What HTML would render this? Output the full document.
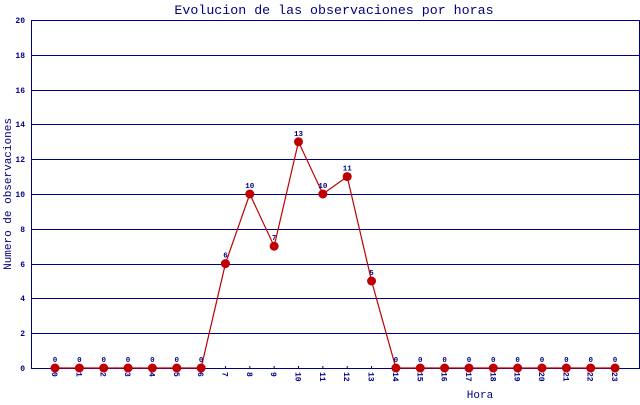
<!DOCTYPE html>
<html><head><style>body{margin:0;background:#fff;width:640px;height:400px;overflow:hidden}</style></head><body>
<svg width="640" height="400" xmlns="http://www.w3.org/2000/svg" font-family="Liberation Mono, monospace">
<rect width="640" height="400" fill="#fff"/>
<text x="334" y="14" text-anchor="middle" font-size="13.3" fill="#000080" font-weight="normal">Evolucion de las observaciones por horas</text>
<g stroke="#000080" stroke-width="1">
<line x1="31" y1="20.5" x2="640" y2="20.5"/>
<line x1="31" y1="55.5" x2="640" y2="55.5"/>
<line x1="31" y1="90.5" x2="640" y2="90.5"/>
<line x1="31" y1="124.5" x2="640" y2="124.5"/>
<line x1="31" y1="159.5" x2="640" y2="159.5"/>
<line x1="31" y1="194.5" x2="640" y2="194.5"/>
<line x1="31" y1="229.5" x2="640" y2="229.5"/>
<line x1="31" y1="264.5" x2="640" y2="264.5"/>
<line x1="31" y1="298.5" x2="640" y2="298.5"/>
<line x1="31" y1="333.5" x2="640" y2="333.5"/>
<line x1="31" y1="368.5" x2="640" y2="368.5"/>
<line x1="31.5" y1="20" x2="31.5" y2="369"/>
<line x1="639.5" y1="20" x2="639.5" y2="369"/>
</g>
<g font-size="8" font-weight="bold" fill="#000080" text-anchor="end">
<text x="25" y="23">20</text><text x="25" y="58">18</text><text x="25" y="93">16</text><text x="25" y="127">14</text><text x="25" y="162">12</text><text x="25" y="197">10</text><text x="25" y="232">8</text><text x="25" y="267">6</text><text x="25" y="301">4</text><text x="25" y="336">2</text><text x="25" y="371">0</text>
</g>
<text transform="translate(11,194) rotate(-90)" text-anchor="middle" font-size="11" fill="#000080">Numero de observaciones</text>
<text x="480" y="398" text-anchor="middle" font-size="11" fill="#000080">Hora</text>
<g id="xl" font-size="8" font-weight="bold" fill="#000080"></g>
<polyline fill="none" stroke="#c00000" stroke-width="1.2" points=""/>
<g id="pts"></g>
</svg>
<script>
var v=[0,0,0,0,0,0,0,6,10,7,13,10,11,5,0,0,0,0,0,0,0,0,0,0];
var ns="http://www.w3.org/2000/svg",svg=document.querySelector('svg');
var xl=document.getElementById('xl'),pts=document.getElementById('pts'),pl=document.querySelector('polyline');
var s="";
for(var i=0;i<24;i++){
 var x=55+i*24.35,y=368-v[i]*17.4;
 s+=x+","+y+" ";
 var t=document.createElementNS(ns,'text');t.setAttribute('transform','translate('+(x-3)+',372) rotate(90)');t.textContent=i;xl.appendChild(t);
 var tk=document.createElementNS(ns,'line');tk.setAttribute('x1',x);tk.setAttribute('x2',x);tk.setAttribute('y1',366);tk.setAttribute('y2',369);tk.setAttribute('stroke','#000080');svg.insertBefore(tk,pl);
 var c=document.createElementNS(ns,'circle');c.setAttribute('cx',x);c.setAttribute('cy',y);c.setAttribute('r',4.5);c.setAttribute('fill','#c00000');pts.appendChild(c);
 var l=document.createElementNS(ns,'text');l.setAttribute('x',x);l.setAttribute('y',y-6);l.setAttribute('text-anchor','middle');l.setAttribute('font-size','7.5');l.setAttribute('font-weight','bold');l.setAttribute('fill','#000080');l.textContent=v[i];pts.appendChild(l);
}
pl.setAttribute('points',s);
</script>
</body></html>
